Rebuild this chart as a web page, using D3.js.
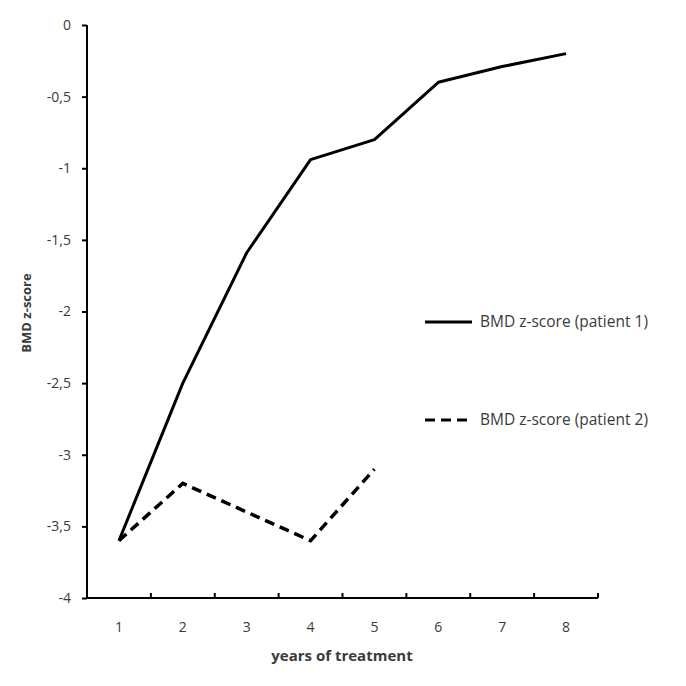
<!DOCTYPE html>
<html>
<head>
<meta charset="utf-8">
<script src="https://cdn.jsdelivr.net/npm/d3@7"></script>
<style>
  body { margin: 0; background: #fff; }
  text { font-family: "Open Sans", sans-serif; fill: #3a3a3a; }
</style>
</head>
<body>
<svg id="chart" width="686" height="686"></svg>
<script>
const years = [1, 2, 3, 4, 5, 6, 7, 8]
const patient1 = [-3.6, -2.5, -1.59, -0.94, -0.8, -0.4, -0.29, -0.2]
const patient2 = [-3.6, -3.2, -3.4, -3.6, -3.1]
const yTicks = [0, -0.5, -1, -1.5, -2, -2.5, -3, -3.5, -4]
const seriesNames = ['BMD z-score (patient 1)', 'BMD z-score (patient 2)']

const svg = d3.select('#chart')
const plotLeft = 87
const plotRight = 598
const plotTop = 25
const plotBottom = 598

const x = d3.scaleBand().domain(years).range([plotLeft, plotRight])
const y = d3.scaleLinear().domain([-4, 0]).range([plotBottom, plotTop])

// y axis
const yAxis = svg.append('g')
  .attr('transform', 'translate(' + plotLeft + ',0)')
  .call(d3.axisLeft(y).tickValues(yTicks).tickSize(5).tickPadding(11)
    .tickFormat(d => String(d).replace('.', ',')))
yAxis.select('.domain').attr('d', 'M0,' + plotTop + 'V' + plotBottom)
yAxis.selectAll('line, path').attr('stroke', '#000').attr('stroke-width', 2)
yAxis.selectAll('text').style('font-size', '14px').attr('fill', '#3a3a3a')

// x axis (ticks between categories, pointing inward)
const xAxis = svg.append('g')
  .attr('transform', 'translate(0,' + plotBottom + ')')
xAxis.append('line')
  .attr('x1', plotLeft - 1).attr('x2', plotRight)
  .attr('stroke', '#000').attr('stroke-width', 2)
const bounds = years.map(d => x(d) + x.bandwidth())
xAxis.selectAll('.tick')
  .data(bounds)
  .join('line')
  .attr('x1', d => d).attr('x2', d => d)
  .attr('y1', 0).attr('y2', -5)
  .attr('stroke', '#000').attr('stroke-width', 2)
xAxis.selectAll('.lbl')
  .data(years)
  .join('text')
  .attr('x', d => x(d) + x.bandwidth() / 2)
  .attr('y', 34)
  .attr('text-anchor', 'middle')
  .style('font-size', '14px')
  .text(d => d)

// axis titles
svg.append('text')
  .attr('x', 342).attr('y', 661)
  .attr('text-anchor', 'middle')
  .style('font-size', '15px').style('font-weight', 'bold')
  .text('years of treatment')
svg.append('text')
  .attr('transform', 'translate(31,313) rotate(-90)')
  .attr('text-anchor', 'middle')
  .style('font-size', '13px').style('font-weight', 'bold')
  .text('BMD z-score')

const line = d3.line()
  .x((d, i) => x(years[i]) + x.bandwidth() / 2)
  .y(d => y(d))

svg.append('path')
  .datum(patient1)
  .attr('d', line)
  .attr('fill', 'none')
  .attr('stroke', '#000')
  .attr('stroke-width', 3)
  .attr('stroke-linejoin', 'round')

svg.append('path')
  .datum(patient2)
  .attr('d', line)
  .attr('fill', 'none')
  .attr('stroke', '#000')
  .attr('stroke-width', 3.5)
  .attr('stroke-dasharray', '10,6')

// legend
const legend = svg.append('g')
const legendY = [322, 420]
const dashes = [null, '10,6']
seriesNames.forEach((name, i) => {
  legend.append('line')
    .attr('x1', 425).attr('x2', 472)
    .attr('y1', legendY[i]).attr('y2', legendY[i])
    .attr('stroke', '#000').attr('stroke-width', 3)
    .attr('stroke-dasharray', dashes[i])
  legend.append('text')
    .attr('x', 480).attr('y', legendY[i] + 5)
    .style('font-size', '15.5px')
    .text(name)
})
</script>
</body>
</html>
